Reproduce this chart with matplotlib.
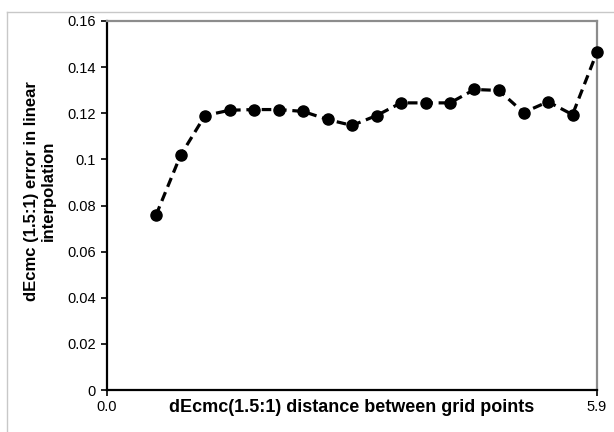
import matplotlib
matplotlib.use("Agg")
import matplotlib.pyplot as plt
from matplotlib.lines import Line2D

plt.rcParams['font.family'] = ['Liberation Sans', 'DejaVu Sans']

x_vals = [0.59, 0.885, 1.18, 1.475, 1.77, 2.065, 2.36, 2.655, 2.95, 3.245,
          3.54, 3.835, 4.13, 4.425, 4.72, 5.015, 5.31, 5.605, 5.9]
y_vals = [0.0758, 0.1017, 0.1190, 0.1213, 0.1216, 0.1216, 0.1208, 0.1173, 0.1147, 0.1190,
          0.1245, 0.1245, 0.1245, 0.1303, 0.1299, 0.1203, 0.1250, 0.1194, 0.1465]
x_ticks = [0.0, 5.9]
x_tick_labels = ["0.0", "5.9"]
y_ticks = [0, 0.02, 0.04, 0.06, 0.08, 0.1, 0.12, 0.14, 0.16]
y_tick_labels = ["0", "0.02", "0.04", "0.06", "0.08", "0.1", "0.12", "0.14", "0.16"]

fig = plt.figure(figsize=(6.14, 4.32), dpi=100)
ax = fig.add_axes([107/614, 1-390/432, 490/614, 369/432])

ax.plot(x_vals, y_vals, color='black', linestyle=(0, (3.0, 1.8)), linewidth=2.3,
        marker='o', markersize=8, markerfacecolor='black', markeredgecolor='black',
        clip_on=False, zorder=3)

ax.set_xlim(0, 5.9)
ax.set_ylim(0, 0.16)
ax.set_xticks(x_ticks)
ax.set_xticklabels(x_tick_labels)
ax.set_yticks(y_ticks)
ax.set_yticklabels(y_tick_labels)
ax.tick_params(axis='both', direction='out', length=4, width=1.2, labelsize=10.5, colors='black')
ax.tick_params(axis='y', pad=4)
ax.tick_params(axis='x', pad=3)

for s in ['left', 'bottom']:
    ax.spines[s].set_color('black')
    ax.spines[s].set_linewidth(1.6)
for s in ['top', 'right']:
    ax.spines[s].set_color('#8c8c8c')
    ax.spines[s].set_linewidth(1.6)

ax.set_xlabel("dEcmc(1.5:1) distance between grid points", fontsize=13, fontweight='bold')
ax.xaxis.set_label_coords(0.5, (390-408)/369)
ax.xaxis.label.set_va('center')

ax.set_ylabel("dEcmc (1.5:1) error in linear\ninterpolation", fontsize=12,
              fontweight='bold', linespacing=1.1)
ax.yaxis.set_label_coords((40-107)/490, (390-191)/369)
ax.yaxis.label.set_va('center')

# outer light border of the chart frame
fig.add_artist(Line2D([7/614, 1.0], [1-12/432, 1-12/432], transform=fig.transFigure,
                      color='#c8c8c8', linewidth=1.0))
fig.add_artist(Line2D([7/614, 7/614], [0, 1-12/432], transform=fig.transFigure,
                      color='#c8c8c8', linewidth=1.0))

fig.savefig("out.png", dpi=100)
